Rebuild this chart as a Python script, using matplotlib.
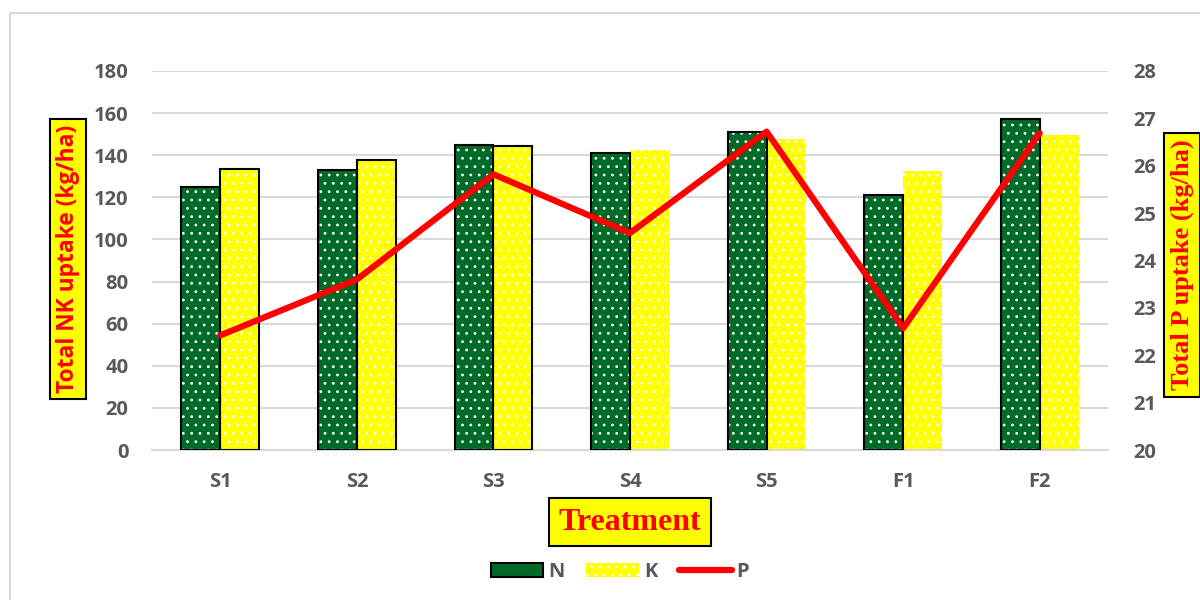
import matplotlib
matplotlib.use('Agg')
import matplotlib.pyplot as plt
from matplotlib.patches import Rectangle, Patch
from matplotlib.lines import Line2D
import numpy as np

# data
treatments = ['S1', 'S2', 'S3', 'S4', 'S5', 'F1', 'F2']
n_uptake = [125, 133, 145, 141, 151, 121, 157]
k_uptake = [133.5, 137.5, 144.5, 142.5, 147.5, 132.5, 149.5]
p_uptake = [22.42, 23.6, 25.82, 24.58, 26.72, 22.57, 26.69]

GREEN = '#006a28'
YELLOW = '#ffff00'
GRAY = '#595959'
k_edges = ['black', 'black', 'black', 'none', 'none', 'none', 'none']

plt.rcParams['hatch.linewidth'] = 0.8

fig = plt.figure(figsize=[12, 6], dpi=100)
ax = fig.add_axes([152/1200, 0.25, 956/1200, 379/600])
ax2 = ax.twinx()

x = np.arange(len(treatments))
w = 0.285

# N bars : white dots + black outline
ax.bar(x - w/2, n_uptake, w, color=GREEN, edgecolor='white', hatch='..', linewidth=0, zorder=2)
ax.bar(x - w/2, n_uptake, w, fill=False, edgecolor='black', linewidth=1.5, zorder=3)
# K bars
ax.bar(x + w/2, k_uptake, w, color=YELLOW, edgecolor='white', hatch='..', linewidth=0, zorder=2)
ax.bar(x + w/2, k_uptake, w, fill=False, edgecolor=k_edges, linewidth=1.5, zorder=3)

ax.set_xlim(-0.5, len(treatments) - 0.5)
ax.set_ylim(0, 180)
ax.set_yticks(range(0, 181, 20))
ax.grid(axis='y', color='#d9d9d9', linewidth=1.5, zorder=0)
ax.set_axisbelow(True)
ax.set_xticks(x, treatments)

ax2.plot(x, p_uptake, color='red', linewidth=4.5, solid_capstyle='round', zorder=5)
ax2.set_ylim(20, 28)
ax2.set_yticks(range(20, 29))

for a in (ax, ax2):
    for s in a.spines.values():
        s.set_visible(False)
    a.tick_params(length=0, labelsize=14.5, labelcolor=GRAY)
    for lbl in a.get_xticklabels() + a.get_yticklabels():
        lbl.set_fontweight('bold')
        lbl.set_family('Open Sans')
ax.spines['bottom'].set_visible(True)
ax.spines['bottom'].set_color('#d9d9d9')
ax.spines['bottom'].set_linewidth(1.5)
ax.tick_params(axis='y', pad=17)
ax.tick_params(axis='x', pad=16)
ax2.tick_params(axis='y', pad=18)

box = dict(boxstyle='square,pad=0.25', facecolor=YELLOW, edgecolor='black', linewidth=1.5)
fig.text(68/1200, 1 - 259/600, 'Total NK uptake (kg/ha)', rotation=90, ha='center', va='center',
         color='red', fontsize=16.4, fontweight='bold', family='Open Sans', bbox=box)
fig.text(1182/1200, 1 - 265/600, 'Total P uptake (kg/ha)', rotation=90, ha='center', va='center',
         color='red', fontsize=19, fontweight='bold', family='Liberation Serif', bbox=box)
fig.text(630/1200, 1 - 522/600, 'Treatment', ha='center', va='center',
         color='red', fontsize=23, fontweight='bold', family='Liberation Serif',
         bbox=dict(boxstyle='square,pad=0.3', facecolor=YELLOW, edgecolor='black', linewidth=1.5))

handles = [Patch(facecolor=GREEN, edgecolor='black', linewidth=1.5),
           Patch(facecolor=YELLOW, edgecolor='white', hatch='..', linewidth=0),
           Line2D([0], [0], color='red', linewidth=4.5, solid_capstyle='round')]
leg = fig.legend(handles, ['N', 'K', 'P'], loc='center', bbox_to_anchor=(620/1200, 1 - 572/600),
                 ncol=3, frameon=False, handlelength=2.6, handleheight=0.75, columnspacing=1.1,
                 handletextpad=0.25, prop={'family': 'Open Sans', 'weight': 'bold', 'size': 14.5})
for t in leg.get_texts():
    t.set_color(GRAY)

# chart area border
fig.add_artist(Rectangle((10/1200, -0.1), 1.2, 1.1 - 13/600, transform=fig.transFigure,
                         fill=False, edgecolor='#d9d9d9', linewidth=1.5))

fig.savefig('out.png', dpi=100)
